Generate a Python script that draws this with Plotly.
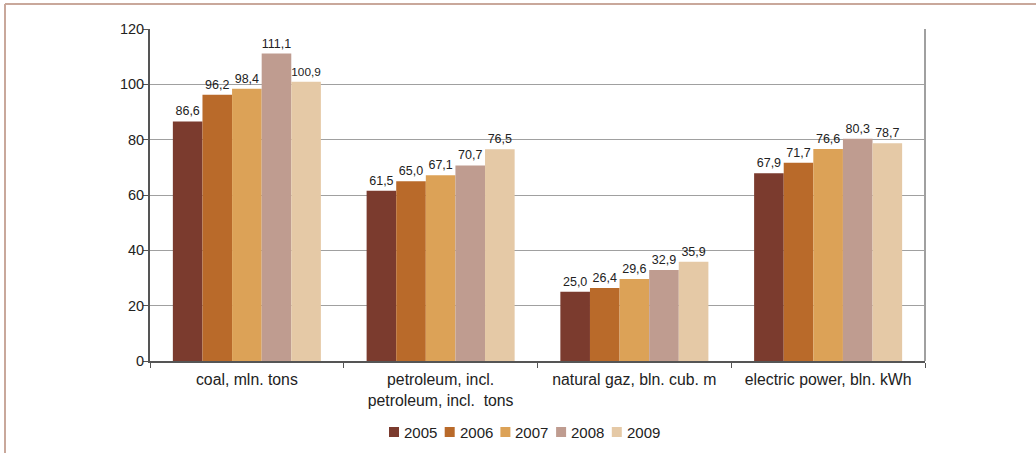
import plotly.graph_objects as go

# categories and values per year
categories = ["coal, mln. tons",
              "petroleum, incl.<br>petroleum, incl.&nbsp; tons",
              "natural gaz, bln. cub. m",
              "electric power, bln. kWh"]
years = ["2005", "2006", "2007", "2008", "2009"]
v2005 = [86.6, 61.5, 25.0, 67.9]
v2006 = [96.2, 65.0, 26.4, 71.7]
v2007 = [98.4, 67.1, 29.6, 76.6]
v2008 = [111.1, 70.7, 32.9, 80.3]
v2009 = [100.9, 76.5, 35.9, 78.7]
colors = ["#7b3b2e", "#b96a2a", "#dca257", "#bf9c90", "#e5c9a6"]

W, H = 1036, 453
ml, mr, mt, mb = 150, 111, 29, 92
pw, ph = W - ml - mr, H - mt - mb


def px_x(x):
    return (x - ml) / pw


def px_y(y):
    return (H - mb - y) / ph


fig = go.Figure()
for yr, vals, col in zip(years, [v2005, v2006, v2007, v2008, v2009], colors):
    fig.add_trace(go.Bar(
        x=categories, y=vals, name=yr, marker_color=col,
        marker_line_width=0, showlegend=False,
        text=vals, texttemplate="%{y:.1f}", textposition="outside",
        textfont=dict(size=12.5, color="#222"), cliponaxis=False,
    ))

# legend drawn compactly under the chart, like the original
leg_x0, leg_step, leg_y = 389, 55.7, 432
for i, (yr, col) in enumerate(zip(years, colors)):
    x0 = leg_x0 + i * leg_step
    fig.add_shape(type="rect", xref="paper", yref="paper",
                  x0=px_x(x0), x1=px_x(x0 + 10),
                  y0=px_y(leg_y - 5), y1=px_y(leg_y + 5),
                  fillcolor=col, line_width=0)
    fig.add_annotation(xref="paper", yref="paper", x=px_x(x0 + 13), y=px_y(leg_y),
                       xanchor="left", yanchor="middle", text=yr, showarrow=False,
                       font=dict(size=15, color="#222"))

# frame around the picture (tan line top and left)
border = "#c9a89b"
fig.add_shape(type="line", xref="paper", yref="paper",
              x0=px_x(5), x1=px_x(5), y0=px_y(H + 5), y1=px_y(4),
              line=dict(color=border, width=2))
fig.add_shape(type="line", xref="paper", yref="paper",
              x0=px_x(5), x1=px_x(W + 5), y0=px_y(4), y1=px_y(4),
              line=dict(color=border, width=2))
# right edge of plot area
fig.add_shape(type="line", xref="paper", yref="paper",
              x0=1, x1=1, y0=0, y1=1,
              line=dict(color="#a0a0a0", width=2))

fig.update_layout(
    width=W, height=H,
    margin=dict(l=ml, r=mr, t=mt, b=mb, autoexpand=False),
    plot_bgcolor="white", paper_bgcolor="white",
    barmode="group", bargap=0.236, bargroupgap=0,
    separators=", ",
    font=dict(family="Liberation Sans, Arial, sans-serif", size=15, color="#222"),
    showlegend=False,
)
fig.update_xaxes(
    showline=True, linecolor="#555", linewidth=2, automargin=False,
    ticks="outside", tickson="boundaries", ticklen=5, tickcolor="#555",
    tickfont=dict(size=15.8, color="#222"), showgrid=False,
    ticklabelstandoff=3,
)
fig.update_yaxes(
    range=[0, 120], dtick=20, showline=True, linecolor="#555", linewidth=2,
    ticks="outside", ticklen=5, tickcolor="#555", automargin=False,
    showgrid=True, gridcolor="#a0a0a0", gridwidth=1,
    tickfont=dict(size=14.5, color="#222"), zeroline=False,
    ticklabelstandoff=-4,
)

fig.write_html("out.html", config={"displayModeBar": False},
               post_script="document.body.style.margin='0';")
